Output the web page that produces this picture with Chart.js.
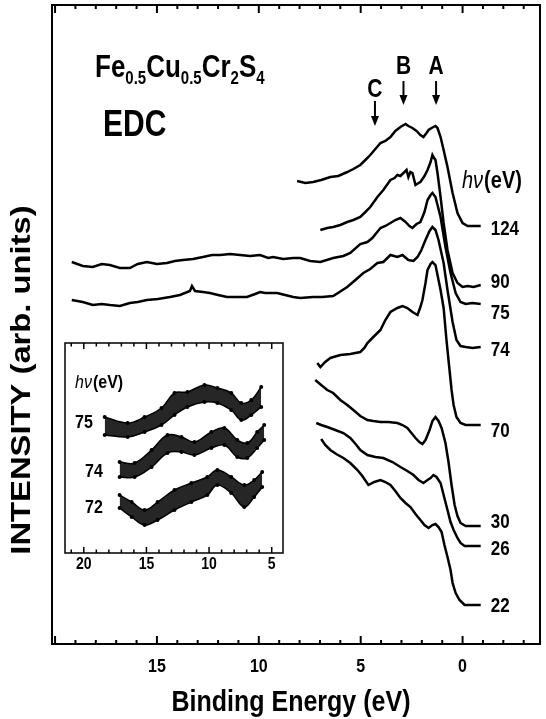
<!DOCTYPE html>
<html><head><meta charset="utf-8">
<script src="https://cdn.jsdelivr.net/npm/chart.js@4.4.1/dist/chart.umd.min.js"></script>
<style>
html,body{margin:0;padding:0;background:#fff;}
#wrap{position:relative;width:546px;height:719px;overflow:hidden;}
#main{position:absolute;left:0;top:0;width:546px;height:719px;}
#inset{position:absolute;left:58px;top:336px;width:234px;height:240px;}
</style></head><body>
<div id="wrap"><canvas id="main" width="546" height="719"></canvas><canvas id="inset" width="234" height="240"></canvas></div>
<script>
// ---------------- DATA (binding energy in eV, intensity in arb. units) ----------------
const photonEnergies = ['124', '90', '75', '74', '70', '30', '26', '22'];
const xTickLabels = [15, 10, 5, 0];
const insetTickLabels = [20, 15, 10, 5];
const peakNames = ['A', 'B', 'C'];
const peakBE = [1.3, 2.9, 4.3];

const be124 = [8.12,7.72,7.33,6.94,6.49,6.10,5.66,5.36,5.02,4.77,4.53,4.28,4.03,3.79,3.54,3.30,3.05,2.80,2.66,2.46,2.26,2.07,1.92,1.77,1.67,1.52,1.43,1.33,1.23,1.08,0.93,0.74,0.49,0.25,0,-0.25,-0.49,-0.89];
const int124 = [463,461,462,464,467,468,472,475,479,484,489,495,501,503,507,513,517,520,518,516,513,509,507,511,514,516,517,518,516,507,494,477,451,431,421,418,418,418];

const be90 = [6.98,6.64,6.35,6.00,5.66,5.36,5.02,4.77,4.53,4.18,3.89,3.54,3.34,3.20,3.05,2.90,2.75,2.66,2.56,2.46,2.31,2.16,2.07,1.87,1.72,1.57,1.48,1.43,1.33,1.23,1.08,0.93,0.74,0.49,0.25,0,-0.25,-0.54,-0.89];
const int90 = [414,416,417,419,422,424,427,432,437,447,454,464,466,469,468,471,474,467,472,471,459,461,462,468,474,482,489,487,484,471,447,421,394,371,361,357,358,357,359];

const be75 = [19.18,18.64,18.15,17.71,17.31,16.82,16.33,15.94,15.49,15.0,14.51,14.12,13.72,13.23,12.74,12.30,11.90,11.41,10.92,10.43,9.94,9.54,9.30,8.80,8.31,7.97,7.48,6.98,6.35,5.85,5.51,5.02,4.67,4.43,4.03,3.79,3.54,3.30,3.05,2.80,2.61,2.46,2.26,2.07,1.87,1.72,1.57,1.48,1.33,1.23,1.08,0.84,0.59,0.34,0.10,-0.15,-0.49,-0.89];
const int75 = [382,378,377,380,379,376,376,380,382,380,381,383,384,385,387,389,389,390,389,388,389,386,387,385,386,386,383,382,386,388,391,400,402,406,416,418,421,424,426,422,418,416,420,422,432,444,449,451,447,439,427,397,371,351,342,340,341,340];

const be74 = [19.18,18.64,18.15,17.71,17.31,16.82,16.33,15.94,15.49,14.95,14.36,13.87,13.38,13.28,13.13,12.74,12.40,12.00,11.56,11.07,10.58,10.18,9.94,9.69,9.10,8.71,8.31,7.97,7.33,6.89,6.35,5.66,5.26,4.87,4.53,4.18,3.89,3.54,3.20,2.95,2.66,2.41,2.21,2.02,1.82,1.62,1.48,1.33,1.18,0.93,0.74,0.49,0.30,0.10,-0.15,-0.49,-0.89];
const int74 = [344,342,339,340,339,338,341,342,344,345,347,349,353,358,353,352,351,349,347,347,347,350,352,351,351,349,347,346,347,347,348,357,364,371,375,381,382,389,387,389,384,383,387,394,404,413,417,414,404,381,354,322,304,298,297,296,297];

const be70 = [7.13,6.98,6.74,6.49,6.00,5.51,5.02,4.82,4.67,4.38,4.03,3.79,3.54,3.20,2.95,2.71,2.46,2.21,2.07,1.97,1.82,1.72,1.57,1.48,1.33,1.23,1.08,0.93,0.79,0.64,0.54,0.44,0.30,0.10,-0.15,-0.49,-0.89];
const int70 = [281,277,282,286,289,290,292,296,301,307,314,324,332,336,338,336,332,329,337,344,361,374,380,382,379,369,354,336,304,274,254,239,227,221,219,219,219];

const be30 = [7.23,6.94,6.64,6.35,6.00,5.66,5.36,5.02,4.67,4.38,4.03,3.64,3.20,2.95,2.71,2.51,2.31,2.12,1.97,1.82,1.62,1.48,1.33,1.18,1.03,0.84,0.69,0.54,0.39,0.25,0.10,-0.15,-0.49,-0.89];
const int30 = [264,259,254,251,244,239,234,228,224,223,222,222,221,219,216,211,206,202,200,204,214,223,227,223,216,201,182,159,139,128,121,118,118,118];

const be26 = [7.18,6.94,6.64,6.25,5.85,5.51,5.21,5.02,4.67,4.28,3.89,3.44,3.05,2.71,2.41,2.16,1.92,1.72,1.57,1.43,1.28,1.08,0.93,0.74,0.59,0.44,0.25,0.10,-0.10,-0.49,-0.89];
const int26 = [221,219,217,214,211,206,199,194,189,187,186,182,177,173,169,164,161,164,166,169,167,161,149,134,122,114,106,101,98,98,98];

const be22 = [6.94,6.74,6.49,6.20,5.85,5.51,5.16,4.92,4.62,4.33,4.03,3.79,3.54,3.30,3.05,2.80,2.56,2.31,2.07,1.87,1.67,1.48,1.33,1.18,1.03,0.89,0.74,0.59,0.49,0.34,0.15,-0.10,-0.49,-0.89];
const int22 = [205,199,194,190,186,181,174,168,159,162,164,162,159,153,146,141,137,130,124,119,116,119,120,117,112,99,87,74,61,51,44,39,39,39];

// inset: upper / lower edges of the scattered-point bands
const insetHv = ['75', '74', '72'];
const inset75BE = [18.33,16.5,15.15,13.8,12.76,11.73,10.37,9.34,8.23,7.43,6.63,5.84];
const inset75Hi = [136,130,136,145,160,161,168,165,160,150,153,166];
const inset75Lo = [118,116,121,128,138,146,151,150,143,133,138,146];
const inset74BE = [17.14,15.94,14.59,13.32,12.2,11.17,9.82,8.78,7.75,6.95,6.16,5.6];
const inset74Hi = [91,90,103,118,116,111,121,125,113,110,121,128];
const inset74Lo = [76,76,86,100,101,98,105,108,96,95,105,113];
const inset72BE = [17.14,16.18,15.15,14.11,12.76,11.41,10.14,9.34,8.23,7.19,6.4,5.76];
const inset72Hi = [58,51,43,51,63,70,76,83,76,68,73,81];
const inset72Lo = [45,36,28,33,43,51,58,68,60,46,56,66];

// ---------------- layout / style ----------------
const FONT = '"Liberation Sans", Arial, Helvetica, sans-serif';
const SY = 1.2;               // vertical stretch of the lettering
const labelOffsetsPx = [3, -3, 9, 3, 6, -4, 3, 1];
const labelBE = -1.38;

const pts = (xs, ys) => xs.map((x, i) => ({x: x, y: ys[i]}));
const mainBE = [be124, be90, be75, be74, be70, be30, be26, be22];
const mainInt = [int124, int90, int75, int74, int70, int30, int26, int22];

const mainDatasets = photonEnergies.map((hv, i) => ({
  label: hv + ' eV',
  data: pts(mainBE[i], mainInt[i]),
  borderColor: '#000',
  borderWidth: 2.5,
  pointRadius: 0,
  tension: 0,
  fill: false
}));

function line(ctx, x1, y1, x2, y2) { ctx.beginPath(); ctx.moveTo(x1, y1); ctx.lineTo(x2, y2); ctx.stroke(); }
function stext(ctx, t, x, y, font, align, base) {
  ctx.save(); ctx.translate(x, y); ctx.scale(1, SY);
  ctx.font = font; ctx.textAlign = align; ctx.textBaseline = base;
  ctx.fillText(t, 0, 0); ctx.restore();
}
function arrow(ctx, x, y1, y2) {
  ctx.lineWidth = 2;
  line(ctx, x, y1, x, y2 - 8);
  ctx.beginPath(); ctx.moveTo(x - 4, y2 - 10); ctx.lineTo(x + 4, y2 - 10); ctx.lineTo(x, y2); ctx.closePath(); ctx.fill();
}
function hvText(ctx, x, y, size) {
  ctx.save(); ctx.translate(x, y); ctx.scale(1, SY);
  ctx.textAlign = 'left'; ctx.textBaseline = 'middle';
  ctx.font = 'italic ' + size + 'px ' + FONT;
  ctx.fillText('h\u03BD', 0, 0);
  const w = ctx.measureText('h\u03BD').width;
  ctx.font = 'bold ' + size + 'px ' + FONT;
  ctx.fillText('(eV)', w + 1, 0);
  ctx.restore();
}
function framedTicks(ctx, a, xs, major, minor, lw) {
  ctx.strokeStyle = '#000'; ctx.lineWidth = lw;
  for (let e = Math.ceil(xs.min); e <= Math.floor(xs.max); e++) {
    const px = xs.getPixelForValue(e);
    const len = (e % 5 === 0) ? major : minor;
    line(ctx, px, a.bottom, px, a.bottom - len);
    line(ctx, px, a.top, px, a.top + len);
  }
  ctx.strokeRect(a.left, a.top, a.right - a.left, a.bottom - a.top);
}

const mainDecor = {
  id: 'mainDecor',
  beforeDraw(chart) {
    const c = chart.ctx; c.save(); c.fillStyle = '#fff'; c.fillRect(0, 0, chart.width, chart.height); c.restore();
  },
  afterDraw(chart) {
    const ctx = chart.ctx, a = chart.chartArea, xs = chart.scales.x, ys = chart.scales.y;
    ctx.save();
    ctx.fillStyle = '#000';
    framedTicks(ctx, a, xs, 8, 4, 2);

    // tick labels and axis title
    xTickLabels.forEach(v => stext(ctx, String(v), xs.getPixelForValue(v), 667, 'bold 16px ' + FONT, 'center', 'middle'));
    stext(ctx, 'Binding Energy (eV)', (a.left + a.right) / 2 - 5, 703, 'bold 25px ' + FONT, 'center', 'middle');

    // formula
    let x = 95;
    const parts = [['Fe', 0], ['0.5', 1], ['Cu', 0], ['0.5', 1], ['Cr', 0], ['2', 1], ['S', 0], ['4', 1]];
    parts.forEach(([t, sub]) => {
      const f = 'bold ' + (sub ? 15 : 26) + 'px ' + FONT;
      stext(ctx, t, x, sub ? 84 : 77, f, 'left', 'alphabetic');
      ctx.font = f;
      x += ctx.measureText(t).width;
    });
    stext(ctx, 'EDC', 103, 136, 'bold 30px ' + FONT, 'left', 'alphabetic');

    // peak markers
    peakNames.forEach((n, i) => {
      const px = xs.getPixelForValue(peakBE[i]);
      const low = n === 'C';
      stext(ctx, n, px, low ? 97 : 74, 'bold 21px ' + FONT, 'center', 'alphabetic');
      arrow(ctx, px, low ? 101 : 81, low ? 126 : 105);
    });

    hvText(ctx, 462, 181, 20);

    // photon energy labels at the right
    photonEnergies.forEach((hv, i) => {
      const arr = mainInt[i];
      const y = ys.getPixelForValue(arr[arr.length - 1]) + labelOffsetsPx[i];
      stext(ctx, hv, xs.getPixelForValue(labelBE), y, 'bold 17px ' + FONT, 'left', 'middle');
    });

    // y title
    ctx.save();
    ctx.translate(22, 380);
    ctx.rotate(-Math.PI / 2);
    ctx.scale(1.17, 1);
    ctx.textAlign = 'center'; ctx.textBaseline = 'middle';
    ctx.font = 'bold 28px ' + FONT;
    ctx.fillText('INTENSITY (arb. units)', 0, 0);
    ctx.restore();
    ctx.restore();
  }
};

new Chart(document.getElementById('main'), {
  type: 'line',
  data: {datasets: mainDatasets},
  options: {
    responsive: false, animation: false, devicePixelRatio: 1,
    layout: {padding: {left: 52, right: 6, top: 5, bottom: 0}},
    plugins: {legend: {display: false}, tooltip: {enabled: false}},
    scales: {
      x: {
        type: 'linear', reverse: true, min: -3.8, max: 20.15,
        afterFit(s) { s.height = 75; },
        grid: {display: false, drawTicks: false}, border: {display: false},
        ticks: {display: false, stepSize: 1, includeBounds: false}
      },
      y: {type: 'linear', display: false, min: 0, max: 639}
    }
  },
  plugins: [mainDecor]
});

// ---------------- inset ----------------
const insetBE = [inset75BE, inset74BE, inset72BE];
const insetHi = [inset75Hi, inset74Hi, inset72Hi];
const insetLo = [inset75Lo, inset74Lo, inset72Lo];
const insetDatasets = [];
insetHv.forEach((hv, i) => {
  insetDatasets.push({label: hv + ' upper', data: pts(insetBE[i], insetHi[i]), borderColor: '#000', borderWidth: 1.5,
    pointRadius: 2, pointBackgroundColor: '#000', pointBorderWidth: 0, tension: 0.4, fill: false});
  insetDatasets.push({label: hv + ' lower', data: pts(insetBE[i], insetLo[i]), borderColor: '#000', borderWidth: 1.5,
    pointRadius: 2, pointBackgroundColor: '#000', pointBorderWidth: 0, tension: 0.4, fill: '-1',
    backgroundColor: 'rgba(0,0,0,0.85)'});
});
const insetOffX = 58, insetOffY = 336;
const insetDecor = {
  id: 'insetDecor',
  beforeDraw(chart) {
    const c = chart.ctx; c.save(); c.fillStyle = '#fff'; c.fillRect(0, 0, chart.width, chart.height); c.restore();
  },
  afterDraw(chart) {
    const ctx = chart.ctx, a = chart.chartArea, xs = chart.scales.x;
    ctx.save();
    ctx.fillStyle = '#000';
    framedTicks(ctx, a, xs, 6, 3.5, 1.5);
    insetTickLabels.forEach(v => stext(ctx, String(v), xs.getPixelForValue(v), 564 - insetOffY, 'bold 14px ' + FONT, 'center', 'middle'));
    hvText(ctx, 75 - insetOffX, 383 - insetOffY, 16);
    const lx = [75, 85, 85], ly = [423, 472, 508];
    insetHv.forEach((hv, i) => stext(ctx, hv, lx[i] - insetOffX, ly[i] - insetOffY, 'bold 16px ' + FONT, 'left', 'middle'));
    ctx.restore();
  }
};
new Chart(document.getElementById('inset'), {
  type: 'line',
  data: {datasets: insetDatasets},
  options: {
    responsive: false, animation: false, devicePixelRatio: 1,
    layout: {padding: {left: 7, right: 9, top: 7, bottom: 0}},
    plugins: {legend: {display: false}, tooltip: {enabled: false}, filler: {propagate: false}},
    scales: {
      x: {
        type: 'linear', reverse: true, min: 4.1, max: 21.5,
        afterFit(s) { s.height = 23; },
        grid: {display: false, drawTicks: false}, border: {display: false},
        ticks: {display: false, stepSize: 1, includeBounds: false}
      },
      y: {type: 'linear', display: false, min: 0, max: 210}
    }
  },
  plugins: [insetDecor]
});
</script></body></html>
